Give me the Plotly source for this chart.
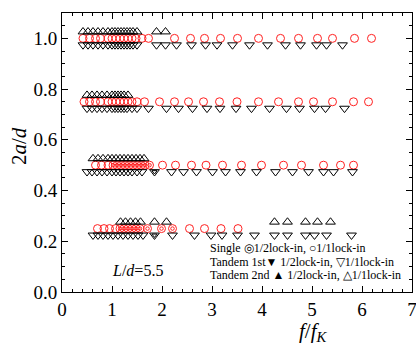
import plotly.graph_objects as go

# ---------------- data (f/fK values per 2a/d row) ----------------
rows = [1.0, 0.75, 0.5, 0.25]

# Single, 1/1 lock-in (open circles)
single_11_r100 = [0.42, 0.55, 0.67, 0.77, 0.92, 1.0, 1.08, 1.16, 1.24, 1.32, 1.40, 1.48, 1.6, 1.73,
                  2.25, 2.57, 2.85, 3.17, 3.51, 3.93, 4.37, 4.73, 5.11, 5.41, 5.85, 6.19]
single_11_r075 = [0.44, 0.55, 0.67, 0.77, 0.92, 1.0, 1.08, 1.16, 1.24, 1.32, 1.40, 1.5, 1.65,
                  1.95, 2.25, 2.53, 2.83, 3.15, 3.5, 3.93, 4.33, 4.73, 5.03, 5.41, 5.83, 6.13]
single_11_r050 = [0.67, 0.79, 0.92, 2.01, 2.27, 2.59, 2.88, 3.21, 3.59, 3.99, 4.43, 4.79, 5.23, 5.57, 5.83]
single_11_r025 = [0.71, 0.84, 0.95, 1.07, 2.55, 2.85, 3.18, 3.52]

# Single, 1/2 lock-in (double circles)
single_12_r100 = []
single_12_r075 = []
single_12_r050 = [1.02, 1.1, 1.18, 1.26, 1.34, 1.42, 1.5, 1.58, 1.66, 1.75]
single_12_r025 = [1.16, 1.24, 1.32, 1.40, 1.48, 1.56, 1.71, 1.99, 2.21]

# Tandem 1st, 1/1 lock-in (open down triangles)
t1_11_r100 = [0.42, 0.52, 0.62, 0.72, 0.82, 0.92, 1.0, 1.06, 1.12, 1.18, 1.24, 1.30, 1.36, 1.42, 1.5,
              1.89, 2.07, 2.29, 2.59, 2.87, 3.1, 3.41, 3.75, 4.11, 4.47, 4.77, 5.09, 5.29, 5.61]
t1_11_r075 = [0.5, 0.6, 0.7, 0.8, 0.9, 1.0, 1.06, 1.12, 1.18, 1.24, 1.3, 1.4, 1.5,
              1.73, 2.09, 2.33, 2.61, 2.9, 3.16, 3.48, 3.79, 4.15, 4.49, 4.75, 5.05, 5.27, 5.65]
t1_11_r050 = [0.5, 0.6, 0.7, 0.8, 0.9, 1.0, 1.08, 1.16, 1.24, 1.32, 1.4, 1.5, 1.6,
              2.19, 2.43, 2.69, 3.01, 3.27, 3.57, 3.89, 4.27, 4.61, 4.93, 5.23, 5.43, 5.81]
t1_11_r025 = [0.62, 0.72, 0.82, 0.92, 1.02, 1.12, 1.22, 1.32, 1.42, 1.52, 1.62,
              2.21, 2.65, 2.98, 3.2, 3.51, 3.85, 4.25, 4.51, 4.87, 5.05, 5.29, 5.79]

# Tandem 1st, 1/2 lock-in (hatched down triangles)
t1_12_r100 = []
t1_12_r075 = []
t1_12_r050 = [1.85]
t1_12_r025 = [1.85]

# Tandem 2nd, 1/1 lock-in (open up triangles)
t2_11_r100 = [0.42, 0.52, 0.62, 0.72, 0.82, 0.92, 1.0, 1.06, 1.12, 1.18, 1.24, 1.30, 1.36, 1.42, 1.5,
              1.89, 2.07]
t2_11_r075 = [0.5, 0.6, 0.7, 0.8, 0.9, 1.0, 1.06, 1.12, 1.18, 1.24, 1.32]
t2_11_r050 = [0.62, 0.72, 0.82, 0.92, 1.0, 1.08, 1.16, 1.24, 1.32, 1.4, 1.48, 1.56, 1.64]
t2_11_r025 = [1.17, 1.27, 1.37, 1.47, 1.57, 1.85, 2.09, 4.25, 4.51, 4.87, 5.11, 5.37]

x_ticks = [0, 1, 2, 3, 4, 5, 6, 7]
y_ticks = [0.0, 0.2, 0.4, 0.6, 0.8, 1.0]

legend_lines = ["Single \u25CE1/2lock-in, \u25CB1/1lock-in",
                "Tandem 1st\u25BC 1/2lock-in, \u25BD1/1lock-in",
                "Tandem 2nd \u25B2 1/2lock-in, \u25B31/1lock-in"]

# ---------------- helpers ----------------
def flatten(series, offset=0.0):
    xs, ys = [], []
    for r, vals in zip(rows, series):
        xs += vals
        ys += [r + offset] * len(vals)
    return xs, ys

FONT = "Liberation Serif, Times New Roman, Times, serif"
RED = "#ff2020"
fig = go.Figure()

def add(series, symbol, color, size, offset=0.0, width=1):
    xs, ys = flatten(series, offset)
    fig.add_trace(go.Scatter(x=xs, y=ys, mode="markers", showlegend=False, hoverinfo="skip",
                             marker=dict(symbol=symbol, size=size, color=color,
                                         line=dict(color=color, width=width))))

OFF = 0.026
t1_11 = [t1_11_r100, t1_11_r075, t1_11_r050, t1_11_r025]
t1_12 = [t1_12_r100, t1_12_r075, t1_12_r050, t1_12_r025]
t2_11 = [t2_11_r100, t2_11_r075, t2_11_r050, t2_11_r025]
s11 = [single_11_r100, single_11_r075, single_11_r050, single_11_r025]
s12 = [single_12_r100, single_12_r075, single_12_r050, single_12_r025]

add(s11, "circle-open", RED, 8)
add(s12, "circle-open", RED, 8)
add(s12, "circle-open", RED, 3.5)
add(t1_11, "triangle-down-open", "black", 8.5, -OFF)
add(t1_12, "triangle-down-open", "black", 8.5, -OFF)
add(t1_12, "triangle-down-open", "black", 4.5, -OFF)
add(t2_11, "triangle-up-open", "black", 8.5, OFF)

W, H = 416, 345
PLOT_L, PLOT_R, PLOT_T, PLOT_B = 62, 412, 13, 292   # window pixels
PW = PLOT_R - PLOT_L
PH = PLOT_B - PLOT_T

def paper_x(px):
    return (px - PLOT_L) / PW

def paper_y(py):
    return (PLOT_B - py) / PH

# annotations
ann = []
for i, t in enumerate(legend_lines):
    ann.append(dict(x=2.92, y=0.173 - i * 0.053, xref="x", yref="y", text=t, showarrow=False,
                    xanchor="left", yanchor="middle", font=dict(family=FONT, size=12, color="black")))
ann.append(dict(x=1.5, y=0.086, xref="x", yref="y", text="<i>L</i>/<i>d</i>=5.5", showarrow=False,
                xanchor="center", yanchor="middle", font=dict(family=FONT, size=16, color="black")))
ann.append(dict(x=paper_x(19), y=paper_y(146), xref="paper", yref="paper", text="2<i>a</i>/<i>d</i>",
                showarrow=False, textangle=-90, xanchor="center", yanchor="middle",
                font=dict(family=FONT, size=21, color="black")))
ann.append(dict(x=paper_x(313), y=paper_y(332), xref="paper", yref="paper",
                text="<i>f</i>/<i>f</i><sub><i>K</i></sub>", showarrow=False,
                xanchor="center", yanchor="middle", font=dict(family=FONT, size=21, color="black")))

axis_common = dict(showgrid=False, zeroline=False, showline=True, linecolor="black", linewidth=1,
                   mirror="ticks", ticks="inside", ticklen=6, tickcolor="black", automargin=False,
                   ticklabeloverflow="allow",
                   tickfont=dict(family=FONT, size=19, color="black"))

fig.update_layout(
    width=W, height=H,
    font=dict(family=FONT, color="black"),
    margin=dict(l=PLOT_L, r=W - PLOT_R, t=PLOT_T, b=H - PLOT_B, autoexpand=False),
    plot_bgcolor="white", paper_bgcolor="white",
    annotations=ann,
    xaxis=dict(range=[0, 7], tickvals=x_ticks, ticktext=[str(v) for v in x_ticks],
               minor=dict(dtick=0.2, ticks="inside", ticklen=3, tickcolor="black"), **axis_common),
    yaxis=dict(range=[0, 1.1], tickvals=y_ticks, ticktext=["%.1f" % v for v in y_ticks],
               minor=dict(dtick=0.05, ticks="inside", ticklen=3, tickcolor="black"), **axis_common),
)

fig.write_html("out.html", config={"displayModeBar": False, "staticPlot": True},
               post_script="document.body.style.margin='0';document.body.style.overflow='hidden';")
